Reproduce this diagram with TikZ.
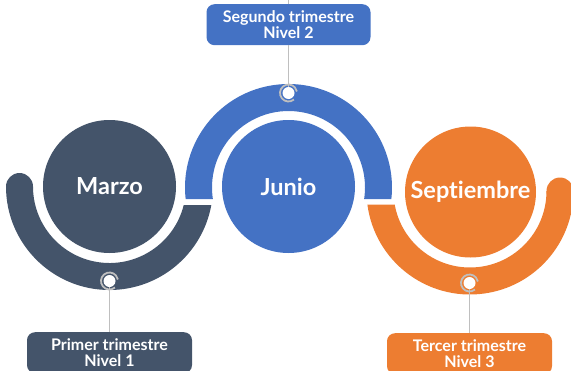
\documentclass[tikz,border=0pt]{standalone}
\usepackage{fontspec}
\setmainfont{Lato}[BoldFont={Lato Bold},Ligatures={NoCommon}]
\usetikzlibrary{calc}
\definecolor{cdark}{HTML}{44546A}
\definecolor{cblue}{HTML}{4472C4}
\definecolor{corange}{HTML}{ED7D31}
\definecolor{cline}{HTML}{BFBFBF}
\tikzset{
  bigcirc/.style={circle, minimum size=#1, inner sep=0pt, text=white,
    font=\bfseries\fontsize{23.5}{24}\selectfont},
  ringdot/.style={circle, fill=white, minimum size=12pt, inner sep=0pt},
  conn/.style={draw=cline, line width=1.8pt},
  ringarc/.style={draw=cline, line width=1.8pt},
  infobox/.style={rounded corners=8pt, minimum width=165pt, minimum height=41pt,
    inner sep=0pt, text=white, align=center, anchor=north,
    font=\bfseries\fontsize{16}{16.5}\selectfont}
}
\begin{document}
\begin{tikzpicture}[x=1pt,y=-1pt]
\useasboundingbox (0,0) rectangle (571,370);
\clip (0,0) rectangle (571,370);
% dark band
\fill[cdark] ($(109.5,186.5)+(180:103.5)$) arc[start angle=180,end angle=10.3,radius=103.5]
  -- ($(109.5,186.5)+(14:76.5)$) arc[start angle=14,end angle=180,radius=76.5] -- cycle;
\fill[cdark] (19.5,186.5) circle[radius=13.5];
% blue band
\fill[cblue] ($(288.5,187.5)+(173.62:103.5)$) arc[start angle=173.62,end angle=366.38,radius=103.5]
  -- ($(288.5,187.5)+(8.65:76.5)$) arc[start angle=8.65,end angle=-188.65,radius=76.5] -- cycle;
% orange band
\fill[corange] ($(470,191)+(172.5:103.5)$) arc[start angle=172.5,end angle=0,radius=103.5]
  -- ($(470,191)+(0:76.5)$) arc[start angle=0,end angle=169.8,radius=76.5] -- cycle;
\fill[corange] (560,191) circle[radius=13.5];
% circles
\node[bigcirc=133pt, fill=cdark] (marzo) at (109.5,186.5) {Marzo};
\node[bigcirc=133pt, fill=cblue] (junio) at (288.5,186.5) {Junio};
\node[bigcirc=131pt, fill=corange] (sept) at (470.5,192) {Septiembre};
% rings
\node[ringdot] (r1) at (109.5,281) {};
\node[ringdot] (r2) at (288.5,93) {};
\node[ringdot] (r3) at (469.5,283) {};
\foreach \r in {r1,r2,r3}{
  \draw[ringarc] ($(\r.center)+(50:8.5)$) arc[start angle=50,end angle=350,radius=8.5];
}
% boxes
\node[infobox, fill=cdark] (b1) at (109.5,332) {Primer trimestre\\Nivel 1};
\node[infobox, fill=cblue, minimum width=164pt] (b2) at (288.5,4) {Segundo trimestre\\Nivel 2};
\node[infobox, fill=corange] (b3) at (469.5,333) {Tercer trimestre\\Nivel 3};
\coordinate (top2) at (288.5,0);
% connectors
\draw[conn] (r1) -- (b1);
\draw[conn] (top2) -- (b2);
\draw[conn] (b2) -- (r2);
\draw[conn] (r3) -- (b3);
\end{tikzpicture}
\end{document}
